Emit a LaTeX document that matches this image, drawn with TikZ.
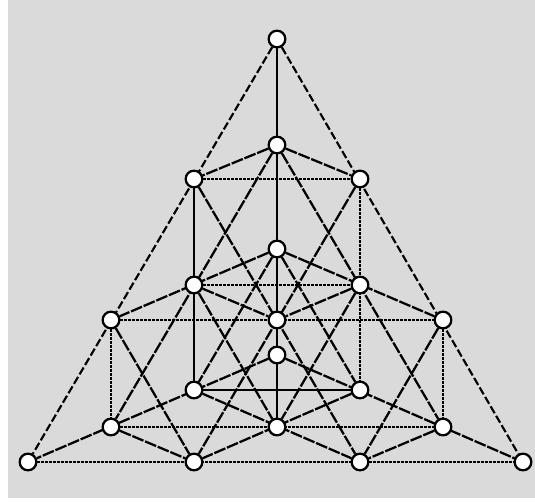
\documentclass[tikz,border=0pt]{standalone}
\pgfdeclarelayer{paper}
\pgfdeclarelayer{lines}
\pgfsetlayers{paper,lines,main}
\definecolor{papergray}{RGB}{218,218,218}
\tikzset{
  pt/.style={circle, draw=black, line width=1.7pt, fill=white, minimum size=12.5pt, inner sep=0pt},
  solidl/.style={line width=1.9pt, black},
  dotl/.style={line width=2.1pt, black, dash pattern=on 2pt off 1pt},
  dashl/.style={line width=1.7pt, black, dash pattern=on 9pt off 1.3pt},
  sidel/.style={line width=1.6pt, black, dash pattern=on 6pt off 2.2pt}
}
\begin{document}
\begin{tikzpicture}[x=0.75pt,y=-0.75pt]
\useasboundingbox (0,0) rectangle (535,502);
\begin{pgfonlayer}{paper}
  \fill[white] (0,0) rectangle (535,502);
  \fill[papergray] (8,0) rectangle (535,498);
\end{pgfonlayer}
% points
\node[pt] (A) at (277,39) {};
\node[pt] (B) at (277,145) {};
\node[pt] (C) at (194,179) {};
\node[pt] (D) at (360,179) {};
\node[pt] (E) at (277,249) {};
\node[pt] (F) at (194,285) {};
\node[pt] (G) at (360,285) {};
\node[pt] (H) at (111,320) {};
\node[pt] (I) at (277,320) {};
\node[pt] (J) at (443,320) {};
\node[pt] (K) at (277,355) {};
\node[pt] (L) at (194,390) {};
\node[pt] (M) at (360,390) {};
\node[pt] (N) at (111,427) {};
\node[pt] (O) at (277,427) {};
\node[pt] (P) at (443,427) {};
\node[pt] (Q) at (28,462) {};
\node[pt] (R) at (194,462) {};
\node[pt] (S) at (360,462) {};
\node[pt] (T) at (523,462) {};
\begin{pgfonlayer}{lines}
  % solid lines
  \draw[solidl] (A) -- (O);
  \draw[solidl] (C) -- (L);
  \draw[solidl] (L) -- (M);
  % dotted lines
  \draw[dotl] (C) -- (D);
  \draw[dotl] (F) -- (G);
  \draw[dotl] (H) -- (J);
  \draw[dotl] (N) -- (P);
  \draw[dotl] (Q) -- (T);
  \draw[dotl] (D) -- (M);
  \draw[dotl] (H) -- (N);
  \draw[dotl] (J) -- (P);
  % outer sides
  \draw[sidel] (A) -- (Q);
  \draw[sidel] (A) -- (T);
  % steep lines
  \draw[dashl] (B) -- (N);
  \draw[dashl] (B) -- (P);
  \draw[dashl] (D) -- (R);
  \draw[dashl] (C) -- (S);
  \draw[dashl] (E) -- (L);
  \draw[dashl] (E) -- (M);
  \draw[dashl] (G) -- (O);
  \draw[dashl] (F) -- (O);
  \draw[dashl] (J) -- (S);
  \draw[dashl] (H) -- (R);
  % shallow lines
  \draw[dashl] (B) -- (C);
  \draw[dashl] (B) -- (D);
  \draw[dashl] (E) -- (H);
  \draw[dashl] (E) -- (J);
  \draw[dashl] (K) -- (Q);
  \draw[dashl] (K) -- (T);
  \draw[dashl] (M) -- (R);
  \draw[dashl] (L) -- (S);
  \draw[dashl] (G) -- (I);
  \draw[dashl] (F) -- (I);
  \draw[dashl] (P) -- (S);
  \draw[dashl] (N) -- (R);
\end{pgfonlayer}
\end{tikzpicture}
\end{document}
